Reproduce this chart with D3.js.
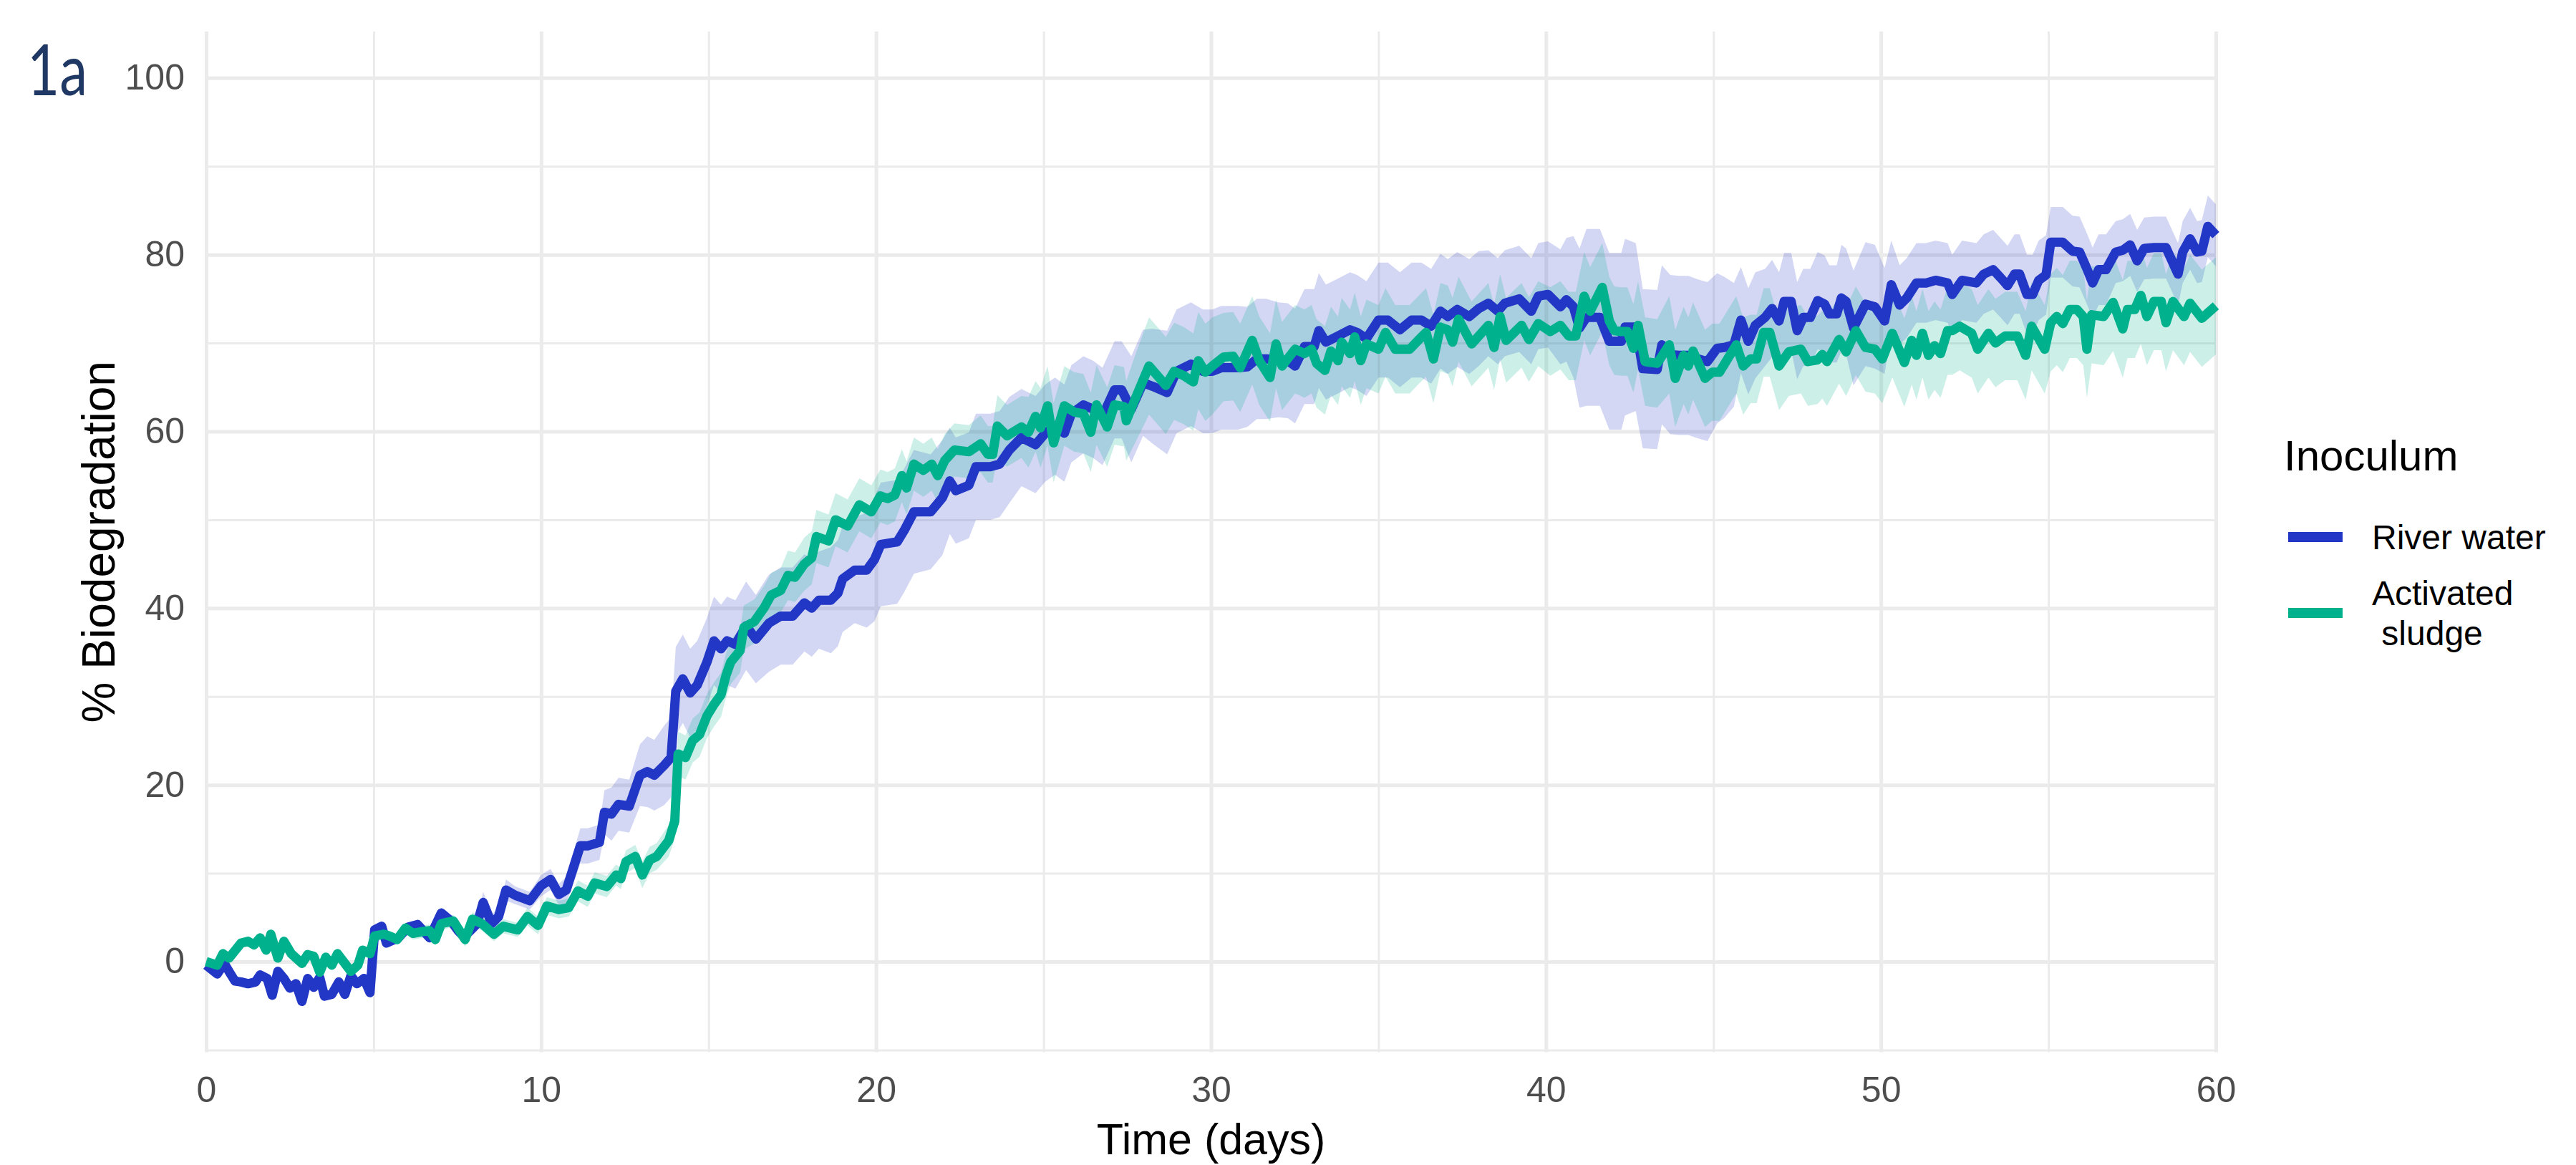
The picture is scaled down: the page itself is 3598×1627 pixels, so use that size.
<!DOCTYPE html>
<html>
<head>
<meta charset="utf-8">
<script src="https://cdn.jsdelivr.net/npm/d3@7"></script>
<style>
  body { margin: 0; background: #fff; }
  svg { display: block; }
</style>
</head>
<body>
<svg id="chart" width="3598" height="1627"></svg>
<script>
// ---- data: [day, mean % biodegradation, sd] ----
var riverWater = [
  [0,-0.4,0.3],[0.33,-1.4,0.3],[0.54,-0.2,0.3],[0.68,-1.1,0.3],[0.86,-2.2,0.3],[1.04,-2.3,0.3],[1.25,-2.5,0.3],[1.47,-2.3,0.3],
  [1.61,-1.5,0.3],[1.82,-1.9,0.3],[1.97,-3.8,0.3],[2.14,-1.1,0.3],[2.32,-1.9,0.3],[2.5,-3.0,0.3],[2.68,-2.5,0.3],[2.86,-4.5,0.3],
  [3.03,-1.9,0.3],[3.21,-2.9,0.3],[3.39,-1.8,0.3],[3.53,-3.9,0.3],[3.75,-3.7,0.3],[3.96,-2.3,0.3],[4.14,-3.7,0.3],[4.32,-1.6,0.3],
  [4.5,-2.5,0.3],[4.71,-1.9,0.3],[4.89,-3.5,0.3],[5.03,3.6,0.5],[5.24,4.0,0.5],[5.38,2.1,0.5],[5.74,2.7,0.5],[6.03,3.9,0.5],
  [6.31,4.2,0.5],[6.67,2.7,0.5],[7.02,5.5,0.6],[7.31,4.6,0.6],[7.52,3.5,0.6],[7.7,2.8,0.6],[8.09,4.3,0.8],[8.27,6.7,1.2],
  [8.52,4.3,1],[8.73,5.1,1],[8.95,8.1,1.2],[9.23,7.5,1],[9.66,6.9,1],[10.0,8.6,1.2],[10.28,9.3,1.2],[10.53,7.6,1.2],
  [10.75,8.1,1.5],[11.17,13.1,2],[11.39,13.1,2],[11.74,13.5,2],[11.89,16.9,2.5],[12.1,16.7,3],[12.31,17.8,3],[12.63,17.6,3],
  [12.95,21.1,3.5],[13.17,21.5,4],[13.38,21.1,4],[13.67,22.2,4.5],[13.88,23.1,4.5],[14.02,30.6,5],[14.23,32.0,5],[14.45,30.4,5],
  [14.66,31.3,5],[14.95,33.9,5],[15.16,36.3,5],[15.37,35.4,5],[15.55,36.3,5],[15.8,35.9,5],[16.12,38.0,5],[16.41,36.5,5],
  [16.8,38.3,5.5],[17.15,39.1,5.5],[17.51,39.1,5.5],[17.86,40.6,5.5],[18.08,40.0,5.5],[18.29,40.9,5.5],[18.65,40.9,6],[18.86,41.7,6],
  [19.0,43.3,6],[19.36,44.3,6],[19.72,44.3,6.5],[19.95,45.5,7],[20.14,47.2,7],[20.63,47.5,7],[20.84,48.8,7],[21.13,50.9,7],
  [21.63,50.9,6.5],[21.98,52.5,6.5],[22.2,54.4,6],[22.38,53.3,6],[22.77,53.9,6],[22.98,56.0,6],[23.41,56.0,6],[23.69,56.3,6],
  [23.98,57.9,6],[24.34,59.3,5.5],[24.76,58.5,5.5],[25.05,59.8,5.5],[25.34,60.6,5.5],[25.62,59.8,5.5],[25.83,62.0,5.5],[26.19,63.0,5.5],
  [26.48,62.5,5.5],[26.76,61.7,5.5],[27.12,64.7,5.5],[27.33,64.7,5.5],[27.62,62.5,6],[27.97,65.5,6],[28.26,65.1,6.5],[28.69,64.4,7],
  [28.97,66.8,7],[29.4,67.6,7],[29.76,66.8,7],[30.04,66.8,7],[30.3,67.2,7],[30.8,67.2,7],[31.08,67.3,6.8],[31.37,68.2,6.8],
  [31.65,68.2,6.8],[32.01,68.1,6.5],[32.29,68.0,6.5],[32.51,67.4,6.5],[32.79,69.6,6.5],[33.08,69.6,6.5],[33.22,71.4,6.5],[33.43,70.1,6.5],
  [33.79,70.8,6.5],[34.15,71.5,6.5],[34.36,71.2,6.5],[34.64,70.5,6.5],[35.0,72.6,6.5],[35.28,72.6,6.5],[35.64,71.5,6.5],[35.99,72.6,6.5],
  [36.28,72.6,6.5],[36.57,71.9,6.5],[36.85,73.6,6.5],[37.07,73.0,6.5],[37.35,73.8,6.5],[37.71,73.0,6.5],[37.99,73.9,6.5],[38.28,74.5,6],
  [38.56,73.6,6],[38.77,74.5,6],[39.2,75.0,6],[39.56,73.6,6],[39.77,75.3,6],[40.06,75.5,6],[40.43,74.1,6.5],[40.61,74.9,7],
  [40.82,74.1,8],[41.0,71.7,9],[41.21,72.9,10],[41.61,72.9,10],[41.89,70.2,10],[42.25,70.2,10],[42.36,71.8,10],[42.68,71.8,9.5],
  [42.89,67.1,9],[43.32,67.0,9],[43.46,69.8,9],[43.71,68.7,9],[43.96,68.6,9],[44.25,68.6,9],[44.54,68.2,9],[44.82,67.9,9],
  [45.11,69.4,8.5],[45.32,69.5,8],[45.61,69.8,7],[45.82,72.6,6],[46.04,70.2,6],[46.25,72.0,6],[46.54,72.9,5.5],[46.75,73.9,5.5],
  [46.96,72.5,5.5],[47.11,74.7,5.5],[47.32,74.7,5.5],[47.5,71.4,5.5],[47.68,72.9,5.5],[47.89,72.9,5.5],[48.11,74.8,5.5],[48.32,74.4,5.5],
  [48.46,73.3,5.5],[48.68,73.3,5.5],[48.82,75.1,6],[48.96,74.7,6],[49.18,71.7,6.5],[49.54,74.4,7],[49.82,74.1,7],[50.11,72.5,6],
  [50.31,76.6,5],[50.56,74.3,4.5],[50.77,75.1,4.5],[51.06,76.8,4.5],[51.35,76.8,4.5],[51.63,77.1,4.5],[51.99,76.8,4.5],[52.13,75.5,4.5],
  [52.42,77.1,4.5],[52.85,76.8,4.5],[53.07,77.8,4.5],[53.35,78.3,4.5],[53.57,77.4,4.5],[53.78,76.5,4.5],[53.99,77.8,4.5],[54.14,77.8,4.5],
  [54.36,75.5,4.5],[54.53,75.5,4.5],[54.71,77.1,4.5],[54.93,77.7,4.5],[55.07,81.4,4],[55.43,81.4,4],[55.72,80.4,4],[55.93,80.3,4],
  [56.15,78.4,4],[56.32,76.8,4],[56.5,78.3,4],[56.72,78.3,4],[57.01,80.3,3.5],[57.22,80.5,3.5],[57.44,81.1,3.5],[57.65,79.3,3.5],
  [57.86,80.7,3.5],[58.15,80.8,3.5],[58.51,80.8,3.5],[58.87,77.8,3.5],[59.01,80.3,3.5],[59.23,81.8,3.5],[59.44,80.3,3.5],[59.58,80.4,3.5],
  [59.76,83.2,3.5],[60.0,82.2,3.5]
];

var activatedSludge = [
  [0,0,0.3],[0.33,-0.4,0.3],[0.5,0.9,0.3],[0.68,0.4,0.3],[1.04,2.1,0.3],[1.25,2.3,0.3],[1.43,1.9,0.3],[1.61,2.7,0.3],
  [1.79,1.3,0.3],[1.93,3.1,0.3],[2.14,0.4,0.3],[2.32,2.3,0.3],[2.54,0.9,0.3],[2.86,-0.2,0.3],[3.03,0.8,0.3],[3.21,0.6,0.3],
  [3.39,-1.2,0.3],[3.57,0.5,0.3],[3.75,-0.4,0.3],[3.92,0.9,0.3],[4.1,0,0.3],[4.32,-1.1,0.3],[4.53,-0.4,0.3],[4.67,1.3,0.3],
  [4.89,0.9,0.4],[5.03,2.9,0.6],[5.31,3.1,0.6],[5.53,2.8,0.6],[5.7,2.5,0.6],[5.95,3.8,0.6],[6.17,3.2,0.7],[6.45,3.4,0.7],
  [6.67,3.5,0.7],[6.84,2.5,0.7],[7.02,4.3,0.7],[7.38,4.6,0.7],[7.73,2.5,0.8],[7.95,4.8,0.8],[8.23,4.3,0.8],[8.59,3.1,0.8],
  [8.87,4.0,0.8],[9.3,3.6,0.8],[9.59,5.1,1],[9.91,4.1,1],[10.17,6.3,1],[10.53,5.9,1],[10.82,6.1,1],[11.1,8.0,1.2],
  [11.39,7.4,1.2],[11.6,8.9,1.2],[11.96,8.5,1.2],[12.24,9.8,1.2],[12.38,9.4,1.2],[12.53,11.3,1.3],[12.81,11.9,1.3],[13.02,9.8,1.5],
  [13.24,11.5,1.5],[13.45,11.9,1.5],[13.81,13.7,1.8],[13.99,15.9,2],[14.09,23.5,2.5],[14.31,23.1,2.5],[14.52,25.0,2.5],[14.73,25.7,2.5],
  [14.95,27.8,2.5],[15.16,29.1,2.5],[15.37,30.2,2.5],[15.52,32.4,2.5],[15.66,33.9,2.5],[15.94,35.2,2.5],[16.05,37.8,2.5],[16.37,38.5,2.5],
  [16.65,40.0,2.5],[16.87,41.5,2.5],[17.15,42.0,2.5],[17.37,43.7,2.8],[17.58,43.5,2.8],[17.86,45.0,3],[18.08,45.7,3],[18.22,48.1,3],
  [18.58,47.6,3],[18.79,50.0,3],[19.15,49.3,3],[19.5,51.7,3],[19.86,50.9,3],[20.13,52.7,3],[20.34,52.4,3],[20.56,52.8,3],
  [20.77,55.0,3],[20.91,53.6,3],[21.13,56.3,3],[21.41,55.6,3],[21.66,56.3,3],[21.84,55.0,3],[22.05,56.7,3],[22.34,57.9,3],
  [22.77,57.7,3],[23.12,58.6,3.2],[23.34,57.4,3.2],[23.48,57.4,3.2],[23.62,60.6,3.5],[23.91,59.5,3.5],[24.34,60.5,3.5],[24.55,59.9,4],
  [24.76,61.7,4],[24.91,60.4,4.5],[25.12,62.9,4.5],[25.3,58.7,4.5],[25.62,62.9,4.5],[25.91,62.2,4.5],[26.19,62.0,4.5],[26.41,59.9,4.5],
  [26.58,63.0,4.5],[26.9,60.5,4.5],[27.12,63.0,4.5],[27.4,62.8,4.5],[27.47,61.2,4.5],[27.76,63.9,5],[28.15,67.4,5.5],[28.47,66.0,5.5],
  [28.65,65.2,5.5],[28.9,66.8,5.5],[29.19,66.3,5.5],[29.47,65.6,5.5],[29.62,68.0,5.5],[29.83,66.7,5.5],[30.04,67.4,5.5],[30.37,68.4,5],
  [30.66,68.5,5],[30.87,67.2,5],[31.23,70.3,5],[31.44,68.0,5],[31.76,66.1,5],[31.94,69.9,5],[32.12,67.4,5],[32.51,69.3,5],
  [32.79,68.8,5],[33.0,69.3,5],[33.15,67.7,5],[33.4,66.9,5],[33.58,69.1,5],[33.79,68.0,5],[33.9,70.1,5],[34.15,68.8,5],
  [34.29,70.7,5],[34.47,68.0,5],[34.64,69.9,5],[35.0,69.3,5],[35.21,71.2,5],[35.5,69.3,5],[35.93,69.3,5],[36.21,70.4,5],
  [36.42,71.2,5],[36.64,68.2,5],[36.85,71.8,5],[37.07,71.5,5],[37.21,70.1,5],[37.39,72.7,4.8],[37.78,69.9,4.8],[38.28,72.0,4.8],
  [38.45,69.5,4.8],[38.63,73.0,4.8],[38.81,70.3,4.8],[39.27,72.0,4.8],[39.49,70.4,4.8],[39.77,72.2,4.8],[40.13,71.3,5],[40.43,72.0,5],
  [40.68,70.8,5],[40.89,70.8,5],[41.14,75.3,5],[41.32,73.6,5],[41.68,76.3,5],[41.89,72.5,5],[42.04,71.4,5],[42.25,71.3,5],
  [42.43,71.3,5],[42.61,69.4,5],[42.75,72.0,5],[42.96,67.9,5],[43.32,67.7,5],[43.68,69.8,5.5],[43.86,66.0,5.5],[44.11,68.6,5.5],
  [44.25,67.4,5.5],[44.39,69.1,5.5],[44.75,66.0,5.5],[44.96,66.7,5.5],[45.18,66.7,5.5],[45.68,69.8,5.5],[45.89,67.4,5.5],[46.11,68.2,5],
  [46.29,68.2,5],[46.5,71.2,5],[46.68,71.2,5],[46.96,67.4,5],[47.25,69.0,5],[47.61,69.3,5],[47.82,67.9,5],[48.11,68.1,5],
  [48.25,68.7,5],[48.39,67.9,5],[48.75,70.4,5],[48.96,69.0,5],[49.25,71.4,5],[49.54,69.5,5],[49.82,69.3,5],[50.04,68.2,5],
  [50.34,71.1,5],[50.7,67.8,5],[50.92,70.3,5],[51.06,68.6,5],[51.24,71.1,5],[51.42,68.6,5],[51.6,69.7,5],[51.78,68.8,5],
  [51.99,71.4,5],[52.13,71.4,5],[52.35,71.9,5],[52.71,71.1,5],[52.89,69.3,5],[53.21,71.1,5],[53.42,70.0,5],[53.71,70.8,5],
  [54.07,70.8,5],[54.32,68.6,5],[54.5,71.9,5],[54.71,70.5,5],[54.89,69.3,5],[55.07,72.3,5.5],[55.25,73.0,5.5],[55.43,72.2,5.5],
  [55.64,73.8,5.5],[55.85,73.8,5.5],[56.04,73.0,5.5],[56.15,69.3,5.5],[56.29,73.2,5.5],[56.65,73.0,5.5],[56.93,74.6,5.5],[57.22,71.6,5.5],
  [57.36,73.8,5.5],[57.58,73.8,5.5],[57.76,75.4,5.5],[57.94,73.0,5.5],[58.15,74.7,5.5],[58.37,74.7,5.5],[58.51,72.3,5.5],[58.72,74.7,5.5],
  [59.05,73.0,5.5],[59.23,74.5,5.5],[59.58,72.8,5.5],[60.0,74.2,5.5]
];

var seriesNames = ["River water", "Activated\n sludge"];
var xTicks = [0, 10, 20, 30, 40, 50, 60];
var xMinorTicks = [5, 15, 25, 35, 45, 55];
var yTicks = [0, 20, 40, 60, 80, 100];
var yMinorTicks = [-10, 10, 30, 50, 70, 90];

// ---- layout ----
var svg = d3.select("#chart");
var font = "'Liberation Sans', Arial, Helvetica, sans-serif";
var plotLeft = 288, plotRight = 3095, plotTop = 44, plotBottom = 1469.5;

var x = d3.scaleLinear().domain([0, 60]).range([plotLeft, plotRight]);
var y = d3.scaleLinear().domain([-10.25, 105.25]).range([plotBottom, plotTop]);

var color = d3.scaleOrdinal()
  .domain(seriesNames)
  .range(["#2337c6", "#00b18d"]);

// gridlines
function grid(axis, ticks, w, translate) {
  svg.append("g")
    .attr("transform", translate)
    .call(axis.tickValues(ticks).tickFormat(""))
    .call(function(g){ g.select(".domain").remove() })
    .selectAll("line")
      .attr("stroke", "#ebebeb")
      .attr("stroke-width", w);
}
grid(d3.axisBottom(x).tickSize(-(plotBottom - plotTop)), xMinorTicks, 3, "translate(0," + plotBottom + ")");
grid(d3.axisLeft(y).tickSize(-(plotRight - plotLeft)), yMinorTicks, 3, "translate(" + plotLeft + ",0)");
grid(d3.axisBottom(x).tickSize(-(plotBottom - plotTop)), xTicks, 5, "translate(0," + plotBottom + ")");
grid(d3.axisLeft(y).tickSize(-(plotRight - plotLeft)), yTicks, 5, "translate(" + plotLeft + ",0)");

// ribbons (mean +/- sd), then lines on top
var band = d3.area()
  .x(function(d){ return x(d[0]) })
  .y0(function(d){ return y(d[1] - d[2]) })
  .y1(function(d){ return y(d[1] + d[2]) });

var line = d3.line()
  .x(function(d){ return x(d[0]) })
  .y(function(d){ return y(d[1]) });

var series = [riverWater, activatedSludge];

svg.append("g").selectAll("path")
  .data(series)
  .enter().append("path")
    .attr("d", band)
    .attr("fill", function(d, i){ return color(seriesNames[i]) })
    .attr("fill-opacity", 0.2);

svg.append("g").selectAll("path")
  .data(series)
  .enter().append("path")
    .attr("d", line)
    .attr("fill", "none")
    .attr("stroke", function(d, i){ return color(seriesNames[i]) })
    .attr("stroke-width", 13)
    .attr("stroke-linejoin", "round");

// axes (labels only)
var gx = svg.append("g")
  .attr("transform", "translate(0," + plotBottom + ")")
  .call(d3.axisBottom(x).tickValues(xTicks).tickSize(0).tickPadding(34));
gx.select(".domain").remove();
gx.selectAll("text")
  .attr("font-size", 50).attr("font-family", font).attr("fill", "#4d4d4d");

var gy = svg.append("g")
  .attr("transform", "translate(" + plotLeft + ",0)")
  .call(d3.axisLeft(y).tickValues(yTicks).tickSize(0).tickPadding(30));
gy.select(".domain").remove();
gy.selectAll("text")
  .attr("font-size", 50).attr("font-family", font).attr("fill", "#4d4d4d");

// axis titles
svg.append("text")
  .attr("x", (plotLeft + plotRight) / 2).attr("y", 1612)
  .attr("text-anchor", "middle")
  .attr("font-size", 61).attr("font-family", font)
  .text("Time (days)");

svg.append("text")
  .attr("transform", "translate(160," + (plotTop + plotBottom) / 2 + ") rotate(-90)")
  .attr("text-anchor", "middle")
  .attr("font-size", 64).attr("font-family", font)
  .text("% Biodegradation");

// panel tag
svg.append("text")
  .attr("x", 38).attr("y", 133)
  .attr("font-size", 98).attr("font-family", "Lato, 'Noto Sans', sans-serif")
  .attr("fill", "#1f3864")
  .attr("textLength", 84)
  .attr("lengthAdjust", "spacingAndGlyphs")
  .text("1a");

// legend
svg.append("text")
  .attr("x", 3190).attr("y", 657)
  .attr("font-size", 60).attr("font-family", font)
  .text("Inoculum");

var keyY = [750, 856];
var legend = svg.append("g").selectAll("g")
  .data(seriesNames)
  .enter().append("g");

legend.append("line")
  .attr("x1", 3196).attr("x2", 3272)
  .attr("y1", function(d, i){ return keyY[i] })
  .attr("y2", function(d, i){ return keyY[i] })
  .attr("stroke", function(d){ return color(d) })
  .attr("stroke-width", 14);

legend.append("text")
  .attr("font-size", 48).attr("font-family", font)
  .attr("xml:space", "preserve")
  .style("white-space", "pre")
  .attr("y", function(d, i){ return keyY[i] - (d.split("\n").length - 1) * 28 })
  .each(function(d){
    var t = d3.select(this);
    d.split("\n").forEach(function(part, j){
      t.append("tspan")
        .attr("x", 3313)
        .attr("dy", j == 0 ? "0.35em" : 56)
        .text(part);
    });
  });
</script>
</body>
</html>
